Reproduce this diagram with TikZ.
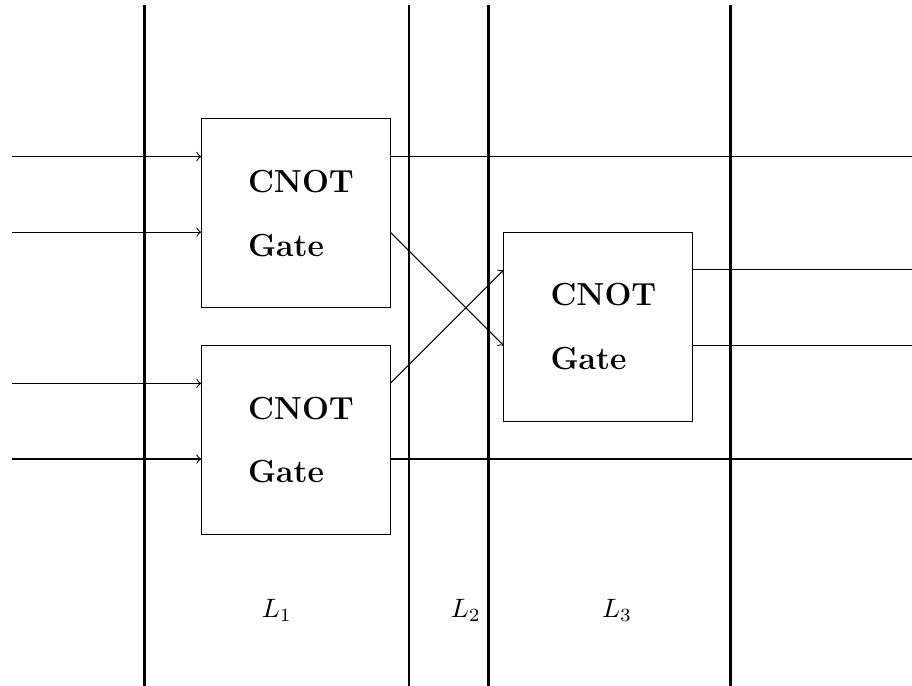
\documentclass[tikz,border=0pt]{standalone}
\usepackage{amsmath,amssymb}

\begin{document}
\begin{tikzpicture}[x=1cm, y=1cm, every node/.style={inner sep=2pt,outer sep=0pt},
    gate/.style={draw, minimum width=2.5cm, minimum height=2.5cm, text width=1.26cm, align=left, font=\large\bfseries},
    layer/.style={thick}]
      \useasboundingbox (-0.16,0) rectangle (11.9,9.07);

      \draw[layer] (1.75,0) -- (1.75,9);
      \draw[layer] (5.25,0) -- (5.25,9);
      \draw[layer] (6.3,0) -- (6.3,9);
      \draw[layer] (9.5,0) -- (9.5,9);

      \draw (3.75,6.25) node[gate] (g1) {CNOT\\[10pt]Gate};
      \draw (3.75,3.25) node[gate] (g2) {CNOT\\[10pt]Gate};
      \draw (7.75,4.75) node[gate] (g3) {CNOT\\[10pt]Gate};

      \draw (3.5,1) node (l1) {$L_1$};
      \draw (6,1) node (l2) {$L_2$};
      \draw (8,1) node (l3) {$L_3$};

      \coordinate (a1) at (0,7);
      \coordinate (a2) at (0,6);
      \coordinate (a3) at (0,4);
      \coordinate (a4) at (0,3);
      \coordinate (b1) at (11.9,7);
      \coordinate (b2) at (11.9,5.5);
      \coordinate (b3) at (11.9,4.5);
      \coordinate (b4) at (11.9,3);

      \draw[->] (a1) -- (a1 -| g1.west);
      \draw[->] (a2) -- (a2 -| g1.west);
      \draw[->] (a3) -- (a3 -| g2.west);
      \draw[->] (a4) -- (a4 -| g2.west);

      \draw[->] (a2 -| g1.east) -- (g3.west |- b3);
      \draw[->] (a3 -| g2.east) -- (g3.west |- b2);

      \draw (b1 -| g1.east) -- (b1);
      \draw (b4 -| g2.east) -- (b4);
      \draw (b2 -| g3.east) -- (b2);
      \draw (b3 -| g3.east) -- (b3);
    \end{tikzpicture}
\end{document}
